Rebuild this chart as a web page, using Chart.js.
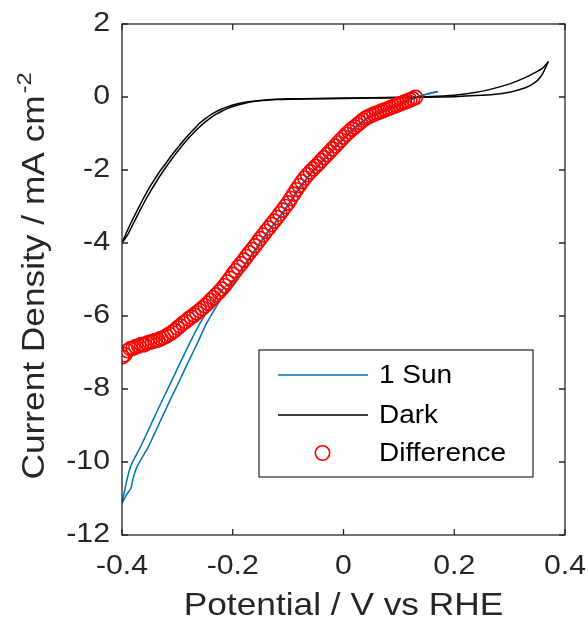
<!DOCTYPE html>
<html><head><meta charset="utf-8">
<script src="https://cdn.jsdelivr.net/npm/chart.js@4.4.1/dist/chart.umd.min.js"></script>
<style>
html,body{margin:0;padding:0;background:#fff;overflow:hidden}
#wrap{width:588px;height:625px}
</style></head><body>
<div id="wrap"><canvas id="c" width="588" height="625"></canvas></div>
<script>
const xTickValues=[-0.4,-0.2,0,0.2,0.4];
const xTickLabels=['-0.4','-0.2','0','0.2','0.4'];
const yTickValues=[-12,-10,-8,-6,-4,-2,0,2];
const yTickLabels=['-12','-10','-8','-6','-4','-2','0','2'];
const seriesNames=['1 Sun','Dark','Difference'];
const xTitle='Potential / V vs RHE';
const yTitleMain='Current Density / mA cm';
const yTitleSup='-2';

// 1 Sun, anodic branch
const sunFwdV=[-0.400,-0.392,-0.384,-0.367,-0.347,-0.327,-0.311,-0.294,-0.278,-0.261,-0.245,-0.229,-0.214,-0.200,-0.180,-0.160,-0.140,-0.120,-0.100,-0.080,-0.060,-0.040,-0.020,0.000,0.020,0.040,0.060,0.080,0.100,0.120,0.140,0.170];
const sunFwdJ=[-11.13,-10.55,-10.10,-9.60,-8.95,-8.30,-7.80,-7.25,-6.75,-6.25,-5.85,-5.50,-5.20,-5.05,-4.63,-4.19,-3.76,-3.36,-2.95,-2.48,-2.11,-1.78,-1.45,-1.13,-0.84,-0.60,-0.44,-0.32,-0.20,-0.07,0.04,0.15];
// 1 Sun, cathodic branch
const sunRevV=[0.170,0.140,0.120,0.100,0.080,0.060,0.040,0.020,0.000,-0.020,-0.040,-0.060,-0.080,-0.100,-0.120,-0.140,-0.160,-0.180,-0.200,-0.212,-0.222,-0.234,-0.249,-0.264,-0.280,-0.297,-0.313,-0.333,-0.353,-0.372,-0.380,-0.384,-0.392,-0.400];
const sunRevJ=[0.15,0.03,-0.09,-0.22,-0.34,-0.46,-0.62,-0.87,-1.16,-1.48,-1.80,-2.13,-2.52,-2.98,-3.38,-3.78,-4.20,-4.64,-5.07,-5.33,-5.55,-5.85,-6.25,-6.75,-7.25,-7.80,-8.30,-8.95,-9.60,-10.10,-10.45,-10.72,-10.90,-11.13];

// Dark, anodic branch
const darkFwdV=[-0.400,-0.390,-0.380,-0.370,-0.360,-0.350,-0.340,-0.330,-0.320,-0.310,-0.300,-0.290,-0.280,-0.270,-0.260,-0.250,-0.240,-0.230,-0.220,-0.210,-0.200,-0.180,-0.160,-0.140,-0.120,-0.100,-0.050,0.000,0.050,0.100,0.150,0.200,0.240,0.270,0.300,0.325,0.345,0.360,0.370];
const darkFwdJ=[-4.00,-3.65,-3.33,-3.03,-2.74,-2.47,-2.23,-2.00,-1.80,-1.59,-1.40,-1.21,-1.04,-0.88,-0.72,-0.60,-0.49,-0.40,-0.33,-0.27,-0.22,-0.15,-0.11,-0.08,-0.06,-0.05,-0.04,-0.03,-0.02,-0.01,0.01,0.05,0.13,0.23,0.36,0.51,0.66,0.80,0.97];
// Dark, cathodic branch
const darkRevV=[0.370,0.360,0.350,0.335,0.320,0.300,0.270,0.240,0.200,0.150,0.100,0.050,0.000,-0.050,-0.100,-0.120,-0.140,-0.160,-0.180,-0.200,-0.210,-0.220,-0.230,-0.240,-0.250,-0.260,-0.270,-0.280,-0.290,-0.300,-0.310,-0.320,-0.330,-0.340,-0.350,-0.360,-0.370,-0.380,-0.390,-0.400];
const darkRevJ=[0.97,0.65,0.45,0.30,0.21,0.13,0.07,0.04,0.01,-0.01,-0.02,-0.03,-0.04,-0.05,-0.06,-0.07,-0.09,-0.12,-0.18,-0.26,-0.32,-0.39,-0.47,-0.57,-0.69,-0.82,-0.97,-1.13,-1.31,-1.50,-1.70,-1.91,-2.13,-2.37,-2.62,-2.89,-3.18,-3.48,-3.78,-4.00];

// Difference (1 Sun - Dark)
const diffV=[-0.400,-0.395,-0.390,-0.385,-0.380,-0.375,-0.370,-0.365,-0.360,-0.355,-0.350,-0.345,-0.340,-0.335,-0.330,-0.325,-0.320,-0.315,-0.310,-0.305,-0.300,-0.295,-0.290,-0.285,-0.280,-0.275,-0.270,-0.265,-0.260,-0.255,-0.250,-0.245,-0.240,-0.235,-0.230,-0.225,-0.220,-0.215,-0.210,-0.205,-0.200,-0.195,-0.190,-0.185,-0.180,-0.175,-0.170,-0.165,-0.160,-0.155,-0.150,-0.145,-0.140,-0.135,-0.130,-0.125,-0.120,-0.115,-0.110,-0.105,-0.100,-0.095,-0.090,-0.085,-0.080,-0.075,-0.070,-0.065,-0.060,-0.055,-0.050,-0.045,-0.040,-0.035,-0.030,-0.025,-0.020,-0.015,-0.010,-0.005,0.000,0.005,0.010,0.015,0.020,0.025,0.030,0.035,0.040,0.045,0.050,0.055,0.060,0.065,0.070,0.075,0.080,0.085,0.090,0.095,0.100,0.105,0.110,0.115,0.120,0.125,0.130];
const diffJ=[-7.12,-7.06,-6.95,-6.90,-6.88,-6.84,-6.82,-6.78,-6.79,-6.74,-6.72,-6.70,-6.67,-6.66,-6.62,-6.59,-6.55,-6.50,-6.45,-6.40,-6.33,-6.27,-6.20,-6.15,-6.08,-6.03,-5.97,-5.91,-5.85,-5.79,-5.72,-5.65,-5.57,-5.50,-5.42,-5.34,-5.26,-5.17,-5.07,-4.97,-4.86,-4.76,-4.66,-4.57,-4.47,-4.37,-4.27,-4.18,-4.08,-3.98,-3.88,-3.78,-3.68,-3.59,-3.49,-3.40,-3.30,-3.20,-3.10,-3.00,-2.90,-2.78,-2.66,-2.54,-2.43,-2.32,-2.22,-2.13,-2.05,-1.97,-1.90,-1.82,-1.74,-1.66,-1.58,-1.50,-1.42,-1.34,-1.26,-1.18,-1.10,-1.02,-0.95,-0.88,-0.82,-0.76,-0.70,-0.63,-0.58,-0.54,-0.50,-0.47,-0.44,-0.41,-0.38,-0.35,-0.32,-0.29,-0.26,-0.23,-0.20,-0.17,-0.14,-0.11,-0.08,-0.05,-0.01];

// The reference typeface is drawn wider than Liberation Sans: widen glyphs along the text direction.
const TEXT_K=1.12;
const nativeFill=CanvasRenderingContext2D.prototype.fillText;
CanvasRenderingContext2D.prototype.fillText=function(t,x,y,maxW){
  this.save();this.translate(x,y);this.scale(TEXT_K,1);
  if(maxW!==undefined&&maxW!==null)nativeFill.call(this,t,0,0,maxW/TEXT_K);else nativeFill.call(this,t,0,0);
  this.restore();
};

const pts=(vs,js)=>vs.map((v,i)=>({x:v,y:js[i]}));
const FONT='"Liberation Sans", Arial, Helvetica, sans-serif';
const AXIS_COLOR='#262626';
const BLUE='#0072BD', BLACK='#000000', RED='#FF0000';

const lineDs=(label,data,color,order)=>({label,data,showLine:true,borderColor:color,backgroundColor:color,borderWidth:1.5,pointRadius:0,tension:0.2,order});
const noPad=s=>{s.paddingTop=0;s.paddingBottom=0;s.paddingLeft=0;s.paddingRight=0;};

const frame={id:'frame',afterDraw(chart){
  const {ctx,chartArea:a,scales:{x,y}}=chart;
  ctx.save();
  ctx.strokeStyle=AXIS_COLOR;ctx.lineWidth=1.3;
  ctx.strokeRect(a.left,a.top,a.right-a.left,a.bottom-a.top);
  ctx.beginPath();
  xTickValues.forEach(v=>{const p=x.getPixelForValue(v);
    ctx.moveTo(p,a.bottom);ctx.lineTo(p,a.bottom-6);
    ctx.moveTo(p,a.top);ctx.lineTo(p,a.top+6);});
  yTickValues.forEach(v=>{const p=y.getPixelForValue(v);
    ctx.moveTo(a.left,p);ctx.lineTo(a.left+6,p);
    ctx.moveTo(a.right,p);ctx.lineTo(a.right-6,p);});
  ctx.stroke();
  // y title with superscript
  const f1='31.5px '+FONT, f2='21px '+FONT;
  ctx.font=f1;const w1=ctx.measureText(yTitleMain).width*TEXT_K;
  ctx.font=f2;const w2=ctx.measureText(yTitleSup).width*TEXT_K;
  const cy=276;
  ctx.translate(43.5,cy);ctx.rotate(-Math.PI/2);
  ctx.fillStyle=AXIS_COLOR;ctx.textBaseline='alphabetic';ctx.textAlign='left';
  const start=-(w1+w2+2)/2;
  ctx.font=f1;ctx.fillText(yTitleMain,start,0);
  ctx.font=f2;ctx.fillText(yTitleSup,start+w1+2,-13);
  ctx.restore();
  // legend
  ctx.save();
  const L=259,T=350,R=533,B=477;
  ctx.fillStyle='#fff';ctx.fillRect(L,T,R-L,B-T);
  ctx.strokeStyle=AXIS_COLOR;ctx.lineWidth=1.2;ctx.strokeRect(L,T,R-L,B-T);
  const rows=[375,415,453];
  const cols=[BLUE,BLACK,RED];
  ctx.font='25px '+FONT;ctx.textBaseline='middle';ctx.textAlign='left';
  seriesNames.forEach((n,i)=>{
    const yy=rows[i];
    if(i<2){ctx.strokeStyle=cols[i];ctx.lineWidth=1.6;ctx.beginPath();ctx.moveTo(278,yy);ctx.lineTo(368,yy);ctx.stroke();}
    else{ctx.strokeStyle=cols[i];ctx.lineWidth=1.6;ctx.beginPath();ctx.arc(322.5,yy,7.2,0,Math.PI*2);ctx.stroke();}
    ctx.fillStyle='#000';ctx.fillText(n,379,yy+1);
  });
  ctx.restore();
}};

new Chart(document.getElementById('c'),{
  type:'scatter',
  data:{datasets:[
    {label:seriesNames[2],data:pts(diffV,diffJ),showLine:false,pointStyle:'circle',pointRadius:7,pointBorderWidth:1.6,borderColor:RED,backgroundColor:'rgba(0,0,0,0)',pointBorderColor:RED,pointBackgroundColor:'rgba(0,0,0,0)',order:0},
    lineDs(seriesNames[1],pts(darkFwdV,darkFwdJ),BLACK,1),
    lineDs(seriesNames[1],pts(darkRevV,darkRevJ),BLACK,1),
    lineDs(seriesNames[0],pts(sunFwdV,sunFwdJ),BLUE,2),
    lineDs(seriesNames[0],pts(sunRevV,sunRevJ),BLUE,2)
  ]},
  options:{
    responsive:false,animation:false,devicePixelRatio:1,events:[],
    layout:{padding:{left:0,right:23,top:24,bottom:0}},
    plugins:{legend:{display:false},tooltip:{enabled:false}},
    scales:{
      x:{type:'linear',min:-0.4,max:0.4,
        afterBuildTicks:s=>{s.ticks=xTickValues.map(v=>({value:v}));},
        afterFit:s=>{s.height=90;noPad(s);},
        grid:{display:false,drawTicks:false},border:{display:false},
        ticks:{padding:15.5,color:AXIS_COLOR,font:{family:FONT,size:27},maxRotation:0,autoSkip:false,callback:(v,i)=>xTickLabels[i]},
        title:{display:true,text:xTitle,color:AXIS_COLOR,font:{family:FONT,size:31.5},padding:{top:0,bottom:0}}},
      y:{type:'linear',min:-12,max:2,
        afterBuildTicks:s=>{s.ticks=yTickValues.map(v=>({value:v}));},
        afterFit:s=>{s.width=122;noPad(s);},
        grid:{display:false,drawTicks:false},border:{display:false},
        ticks:{padding:12,color:AXIS_COLOR,font:{family:FONT,size:27},autoSkip:false,callback:(v,i)=>yTickLabels[i]}}
    }
  },
  plugins:[frame]
});
</script>
</body></html>
